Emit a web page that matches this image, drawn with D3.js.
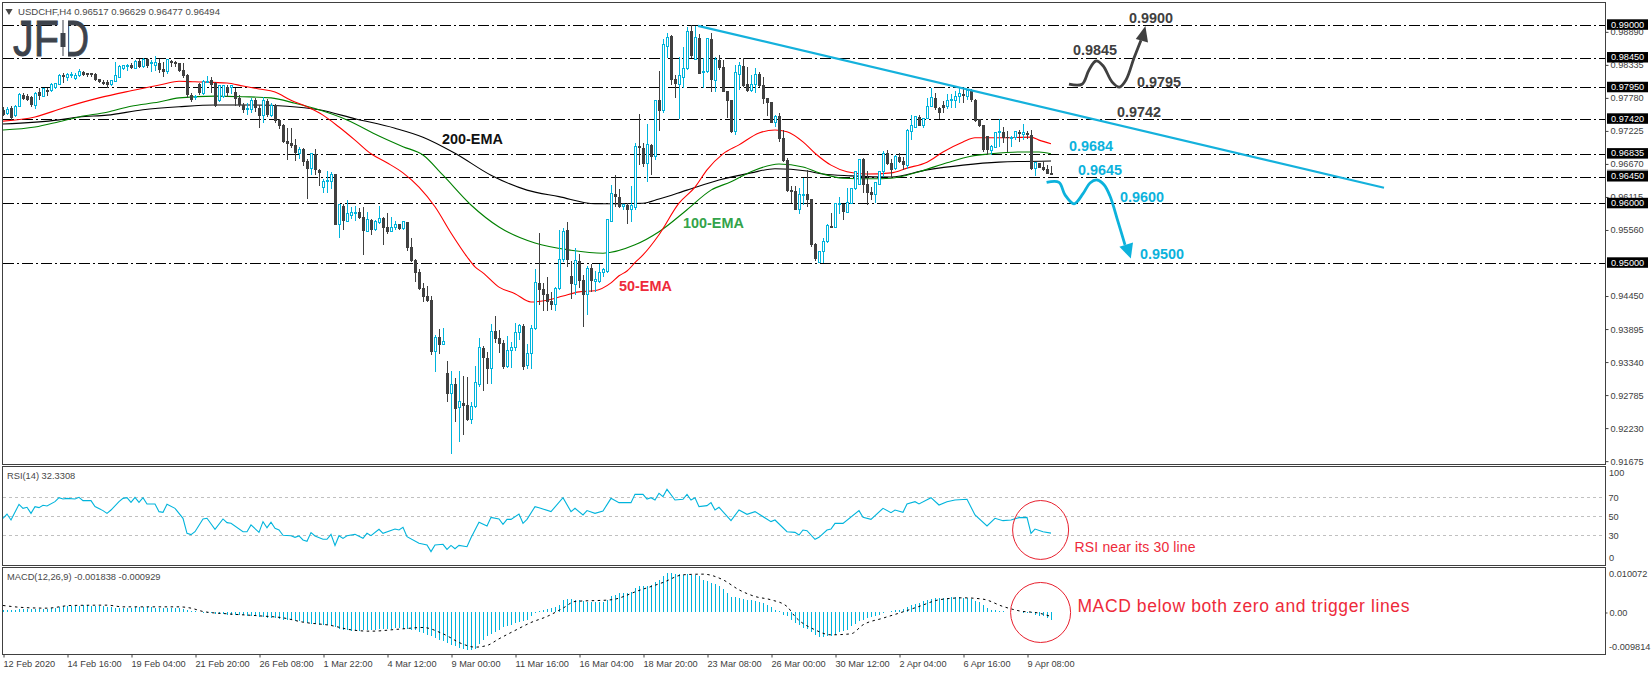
<!DOCTYPE html>
<html lang="en">
<head>
  <meta charset="UTF-8">
  <title>USDCHF H4</title>
  <script src="https://d3js.org/d3.v7.min.js"></script>
  <style>
    html, body { margin: 0; padding: 0; background: #fff; overflow: hidden; }
    text { font-family: "Liberation Sans", sans-serif; }
    .tick text { font-family: "Liberation Sans", sans-serif; }
  </style>
</head>
<body>
  <div id="chart"></div>

  <script>
    // prices are kept in pips (price x 10000), one entry per H4 bar
    const opens = [
      9758,9751,9761,9748,9764,9783,9781,9780,9766,9788, 9781,9791,9790,9795,9801,9816,9813,9816,9811,9815,
      9822,9820,9820,9818,9810,9805,9805,9800,9806,9813, 9827,9832,9833,9827,9840,9830,9843,9837,9833,9837,
      9827,9822,9840,9838,9837,9825,9816,9783,9778,9801, 9785,9805,9808,9803,9774,9780,9796,9795,9788,9778,
      9766,9758,9759,9774,9761,9748,9773,9749,9766,9741, 9732,9706,9702,9699,9685,9692,9672,9659,9684,9657,
      9628,9637,9638,9650,9565,9597,9571,9581,9585,9586, 9578,9554,9573,9556,9568,9576,9561,9554,9560,9566,
      9558,9570,9527,9506,9485,9459,9445,9438,9351,9376, 9364,9316,9282,9297,9257,9265,9262,9237,9259,9296,
      9358,9341,9323,9386,9375,9366,9326,9354,9358,9383, 9395,9328,9348,9390,9467,9457,9449,9437,9430,9457,
      9506,9556,9479,9465,9504,9472,9447,9492,9470,9470, 9485,9487,9571,9617,9611,9596,9598,9591,9593,9697,
      9694,9667,9699,9679,9774,9756,9865,9882,9810,9801, 9813,9827,9890,9843,9879,9820,9822,9877,9808,9842,
      9830,9790,9774,9721,9818,9832,9801,9790,9801,9818, 9800,9778,9771,9736,9748,9711,9674,9623,9621,9591,
      9615,9616,9608,9533,9501,9519,9536,9563,9561,9598, 9600,9586,9601,9625,9633,9675,9633,9620,9616,9633,
      9654,9685,9669,9659,9679,9672,9665,9722,9729,9746, 9731,9743,9763,9778,9761,9766,9763,9773,9774,9780,
      9785,9781,9790,9774,9743,9732,9714,9689,9694,9719, 9721,9712,9711,9711,9721,9717,9719,9716,9659,9669,
      9662,9659,9652
    ];
    const highs = [
      9763,9763,9764,9766,9786,9786,9785,9781,9788,9795, 9795,9795,9803,9803,9818,9820,9820,9822,9820,9827,
      9823,9820,9820,9820,9810,9808,9808,9808,9838,9833, 9833,9835,9837,9842,9843,9845,9845,9842,9848,9843,
      9838,9843,9842,9840,9837,9837,9818,9786,9783,9803, 9808,9815,9813,9805,9800,9800,9800,9800,9795,9783,
      9769,9769,9778,9778,9766,9780,9776,9769,9768,9743, 9734,9727,9727,9709,9696,9694,9675,9685,9692,9659,
      9642,9655,9654,9650,9600,9600,9606,9595,9597,9593, 9595,9586,9575,9573,9597,9578,9585,9578,9571,9566,
      9571,9570,9543,9507,9491,9467,9462,9445,9380,9390, 9391,9336,9319,9307,9319,9311,9309,9267,9328,9375,
      9361,9351,9398,9412,9388,9371,9378,9368,9400,9398, 9398,9365,9396,9490,9551,9467,9477,9452,9460,9556,
      9560,9570,9504,9526,9516,9480,9496,9499,9487,9499, 9492,9575,9632,9648,9625,9600,9601,9630,9702,9751,
      9702,9734,9701,9774,9823,9877,9887,9884,9816,9847, 9864,9897,9900,9899,9885,9845,9879,9887,9847,9850,
      9842,9790,9774,9833,9838,9845,9830,9816,9828,9822, 9813,9778,9771,9749,9753,9724,9677,9630,9630,9627,
      9643,9657,9608,9534,9519,9543,9566,9585,9601,9612, 9600,9627,9627,9654,9675,9677,9655,9628,9635,9655,
      9689,9690,9675,9682,9685,9679,9726,9749,9748,9749, 9744,9778,9795,9786,9763,9773,9785,9785,9790,9796,
      9795,9793,9793,9776,9743,9732,9714,9699,9719,9743, 9729,9722,9714,9722,9724,9734,9722,9724,9669,9669,
      9672,9665,9663
    ];
    const lows = [
      9748,9749,9741,9746,9763,9774,9773,9763,9759,9774, 9780,9781,9788,9793,9800,9803,9806,9811,9808,9813,
      9815,9813,9813,9806,9803,9800,9795,9798,9806,9811, 9825,9823,9827,9827,9828,9828,9828,9822,9823,9820,
      9813,9818,9830,9830,9822,9811,9778,9771,9774,9783, 9783,9803,9786,9763,9771,9778,9780,9785,9764,9763,
      9753,9749,9753,9754,9727,9736,9746,9746,9736,9726, 9702,9674,9694,9672,9675,9664,9608,9648,9648,9630,
      9618,9618,9625,9565,9543,9556,9570,9575,9571,9575, 9514,9553,9548,9554,9566,9531,9549,9553,9556,9556,
      9556,9521,9502,9469,9455,9435,9435,9346,9318,9348, 9363,9267,9180,9234,9200,9212,9235,9230,9257,9292,
      9286,9297,9297,9366,9349,9323,9324,9324,9353,9371, 9321,9323,9323,9388,9430,9420,9420,9422,9420,9455,
      9502,9494,9440,9447,9459,9393,9413,9452,9452,9467, 9477,9484,9570,9595,9593,9590,9566,9570,9590,9665,
      9662,9637,9648,9674,9722,9753,9845,9800,9778,9743, 9795,9825,9845,9842,9818,9795,9820,9788,9788,9825,
      9788,9744,9719,9716,9791,9796,9788,9788,9786,9796, 9768,9748,9736,9729,9704,9670,9620,9601,9590,9583,
      9598,9595,9528,9504,9501,9501,9534,9559,9559,9583, 9573,9586,9600,9623,9632,9618,9598,9606,9601,9632,
      9645,9665,9643,9657,9669,9657,9659,9707,9727,9731, 9727,9743,9763,9758,9743,9753,9759,9761,9761,9769,
      9769,9774,9771,9738,9729,9687,9682,9682,9694,9696, 9702,9687,9696,9707,9704,9707,9709,9657,9647,9660,
      9655,9650,9648
    ];
    const closes = [
      9749,9759,9744,9764,9783,9776,9774,9766,9786,9781, 9793,9788,9801,9803,9816,9813,9818,9818,9816,9823,
      9816,9816,9816,9808,9805,9801,9800,9808,9815,9830, 9832,9833,9828,9840,9830,9843,9832,9838,9837,9825,
      9822,9842,9837,9835,9823,9815,9783,9774,9781,9786, 9805,9806,9800,9764,9798,9798,9786,9798,9776,9766,
      9758,9761,9774,9761,9748,9774,9749,9766,9739,9731, 9704,9701,9697,9685,9692,9670,9659,9684,9657,9652,
      9638,9640,9650,9565,9598,9571,9583,9585,9586,9576, 9554,9573,9556,9570,9576,9560,9553,9561,9566,9558,
      9570,9526,9504,9484,9457,9444,9437,9351,9376,9363, 9368,9281,9297,9255,9267,9260,9237,9259,9299,9358,
      9341,9323,9385,9373,9365,9326,9354,9358,9383,9395, 9326,9348,9390,9467,9455,9447,9435,9430,9457,9506,
      9554,9506,9465,9504,9470,9447,9492,9470,9472,9485, 9489,9573,9617,9611,9595,9598,9590,9597,9697,9694,
      9667,9699,9679,9774,9756,9867,9880,9808,9801,9815, 9827,9890,9848,9879,9818,9822,9877,9808,9842,9828,
      9788,9773,9721,9820,9832,9798,9790,9801,9818,9798, 9776,9769,9736,9746,9709,9672,9622,9620,9590,9615,
      9616,9606,9531,9507,9519,9536,9564,9560,9600,9600, 9586,9603,9625,9654,9675,9632,9618,9615,9635,9654,
      9685,9667,9657,9679,9670,9665,9724,9731,9746,9731, 9744,9763,9778,9761,9753,9761,9773,9776,9780,9785,
      9781,9790,9774,9739,9731,9690,9690,9696,9719,9721, 9711,9711,9712,9721,9717,9719,9716,9659,9669,9660,
      9657,9650,9649
    ];

    const ema50 = [[0,9739],[8,9746],[15,9761],[24,9778],[32,9790],[40,9801],[44,9806],[48,9805],[56,9803],[60,9798],[64,9793],[68,9788],[72,9774],[76,9763],[80,9749],[84,9729],[88,9707],[92,9684],[96,9669],[100,9652],[104,9628],[108,9595],[112,9551],[116,9511],[118,9494],[120,9484],[124,9460],[128,9449],[132,9435],[136,9438],[140,9445],[144,9452],[148,9454],[152,9467],[154,9479],[156,9487],[158,9501],[160,9514],[164,9548],[169,9601],[173,9628],[176,9657],[180,9684],[184,9699],[189,9719],[193,9724],[196,9721],[200,9704],[203,9685],[207,9665],[211,9654],[216,9650],[222,9652],[226,9660],[231,9670],[235,9687],[240,9704],[243,9711],[249,9711],[257,9712],[259,9707],[262,9701]];
    const ema100 = [[0,9724],[8,9729],[14,9738],[19,9746],[26,9754],[32,9764],[39,9771],[44,9778],[53,9781],[60,9780],[67,9778],[73,9769],[79,9758],[86,9741],[94,9714],[100,9696],[105,9682],[110,9648],[117,9598],[124,9561],[133,9534],[142,9522],[150,9517],[158,9531],[164,9553],[171,9590],[177,9623],[182,9637],[187,9654],[194,9667],[200,9662],[205,9650],[210,9643],[217,9642],[222,9643],[229,9654],[236,9669],[242,9680],[247,9684],[254,9687],[259,9687],[262,9684]];
    const ema200 = [[0,9734],[14,9741],[19,9746],[26,9749],[35,9758],[44,9763],[53,9766],[62,9766],[71,9764],[79,9758],[88,9743],[98,9727],[105,9712],[113,9685],[122,9648],[131,9623],[139,9612],[148,9600],[160,9601],[164,9608],[171,9623],[179,9640],[187,9652],[193,9659],[201,9655],[205,9650],[212,9647],[222,9645],[231,9657],[240,9665],[249,9670],[262,9672]];

    const rsiValues = [[0,47.9],[1,52.4],[2,46.1],[4,62.6],[5,58.4],[6,59.5],[7,53.1],[8,60.2],[9,59.1],[10,61.6],[11,60.9],[13,65.4],[14,69.6],[15,68.2],[16,68.9],[18,68.2],[19,70],[20,66.5],[22,66.5],[23,60.2],[25,56],[26,53.1],[27,56.6],[29,65.4],[30,68.9],[31,69.6],[32,64.7],[33,70],[34,64.7],[35,69.6],[36,63],[38,63],[39,54.9],[40,54.2],[41,62.6],[43,58.4],[45,47.9],[46,32.1],[47,30.7],[48,33.8],[50,47.2],[51,47.9],[53,36.3],[55,47.2],[56,43.3],[57,42.6],[60,33.8],[61,33.8],[62,40.9],[64,33.1],[65,44.4],[66,38],[67,43.7],[68,37.3],[69,35.6],[70,30],[72,29.6],[73,27.9],[74,29.3],[75,25.1],[76,23.7],[77,32.8],[78,29.3],[80,25.8],[81,25.8],[82,31],[83,19.4],[84,29.6],[85,26.8],[86,29.6],[88,31],[90,26.8],[91,32.1],[92,29.6],[94,36.3],[95,32.1],[98,36.6],[99,35.6],[100,38.4],[101,28.6],[104,21.6],[106,19.8],[107,12.8],[108,19.8],[110,20.5],[111,15.2],[112,19.4],[113,15.9],[114,19.4],[116,18],[117,27.5],[119,43.7],[121,39.8],[122,48.9],[124,47.2],[125,41.6],[126,46.8],[127,46.8],[129,52.4],[130,42.6],[131,46.8],[133,60.2],[134,59.1],[137,54.9],[140,69.6],[142,54.9],[143,58.4],[145,51.4],[146,56],[148,53.1],[150,55.6],[152,68.9],[154,64.4],[157,64.4],[158,73.1],[160,73.1],[161,68.2],[162,69.6],[163,67.2],[164,74.2],[165,70.7],[166,78.4],[168,67.2],[170,67.9],[171,73.1],[172,67.2],[173,69.6],[174,60.2],[176,61.2],[177,64.4],[178,56.6],[179,59.5],[182,45.4],[184,56.6],[186,52.1],[188,54.9],[192,44.4],[193,46.1],[196,33.8],[198,33.1],[199,30.3],[200,35.6],[201,34.9],[203,25.8],[204,27.9],[206,35.6],[207,36.6],[208,42.6],[210,42.6],[214,56],[215,48.9],[217,46.8],[220,58.4],[222,53.8],[223,56.6],[225,54.2],[226,63],[228,65.4],[229,63],[232,69.6],[234,61.9],[236,65.4],[238,67.2],[241,67.9],[243,51.4],[246,39.8],[248,47.9],[250,45.4],[252,46.1],[254,48.6],[256,48.9],[257,32.1],[258,36.6],[260,33.8],[262,32.3]];

    // MACD in units of 0.00001, one histogram value per bar
    const macdBars = [
      61,61,68,68,76,76,76,84,84,84, 84,84,99,106,122,137,152,152,152,152,
      160,160,152,152,152,137,129,114,106,106, 106,106,106,114,114,114,114,114,106,106,
      99,99,99,91,91,76,61,38,23,8, -8,-23,-23,-30,-30,-38,-46,-46,-53,-61,
      -68,-76,-84,-91,-106,-114,-122,-129,-137,-152, -160,-167,-175,-190,-205,-220,-243,-251,-266,-274,
      -289,-296,-304,-342,-380,-410,-410,-418,-418,-418, -410,-403,-395,-388,-380,-372,-365,-365,-357,-357,
      -365,-380,-395,-410,-441,-471,-509,-547,-585,-623, -661,-699,-737,-775,-806,-836,-844,-851,-836,-722,
      -623,-547,-486,-441,-395,-342,-304,-274,-243,-220, -198,-167,-91,-8,23,61,84,99,122,175,
      289,312,312,289,274,251,243,236,236,228, 228,289,365,403,441,441,441,464,555,593,
      593,608,631,684,745,821,897,897,882,866, 859,874,859,844,821,745,707,669,654,608,
      540,441,350,342,327,312,289,274,258,228, 205,167,114,61,23,-53,-76,-167,-243,-296,
      -357,-380,-456,-524,-570,-570,-547,-532,-509,-456, -433,-395,-319,-258,-205,-167,-129,-106,-76,-53,
      -15,0,23,46,61,84,114,175,198,213, 251,274,312,319,319,327,334,342,342,342,
      334,334,304,266,236,175,99,61,46,38, 23,0,0,0,0,-8,-15,-15,-53,-91,
      -91,-129,-167
    ];
    const macdSignal = [[0,160],[5,114],[11,99],[17,160],[26,167],[30,129],[44,129],[47,99],[50,23],[56,-30],[64,-76],[70,-122],[75,-220],[82,-296],[87,-395],[92,-426],[99,-380],[105,-342],[110,-486],[115,-722],[118,-790],[121,-752],[124,-600],[128,-410],[132,-228],[136,-91],[140,99],[143,251],[152,289],[159,502],[165,684],[170,859],[175,874],[180,745],[184,517],[188,365],[192,289],[196,137],[198,-91],[203,-395],[207,-509],[212,-486],[215,-281],[220,-129],[224,-15],[229,137],[234,289],[240,334],[245,304],[250,137],[254,38],[259,-15],[262,-91]];

    const priceLevels = [0.99, 0.9845, 0.9795, 0.9742, 0.96835, 0.9645, 0.96, 0.95];
    const priceTicks = [0.9889, 0.98335, 0.9778, 0.97225, 0.9667, 0.96115, 0.9556, 0.9445, 0.93895, 0.9334, 0.92785, 0.9223, 0.91675];
    const timeBars = [0, 16, 32, 48, 64, 80, 96, 112, 128, 144, 160, 176, 192, 208, 224, 240, 256];
    const timeLabels = ["12 Feb 2020", "14 Feb 16:00", "19 Feb 04:00", "21 Feb 20:00", "26 Feb 08:00", "1 Mar 22:00", "4 Mar 12:00", "9 Mar 00:00", "11 Mar 16:00", "16 Mar 04:00", "18 Mar 20:00", "23 Mar 08:00", "26 Mar 00:00", "30 Mar 12:00", "2 Apr 04:00", "6 Apr 16:00", "9 Apr 08:00"];

    // drawn scenario paths and trendline: [bar, pips]
    const trendline = [[173.75,9899],[345.25,9627]];
    const bullPath = [[266.5,9801],[269.75,9801],[271.5,9825],[273.25,9840],[275,9832],[277.25,9805],[279.1,9796],[280.75,9808],[282.75,9845],[284.5,9875]];
    const bullHead = [[285.6,9899],[283.2,9877],[286.25,9871]];
    const bearPath = [[260.9,9636],[264,9636],[265.5,9615],[267.75,9600],[270,9617],[271.75,9635],[273.5,9640],[275.25,9632],[276.75,9613],[278.75,9570],[280.5,9531]];
    const bearHead = [[281.95,9508],[279.1,9528],[282.5,9535]];

    const width = 1651, height = 675;
    const dark = "#404040", cyan = "#00b4dc", red = "#ee2a3a";

    const svg = d3.select("#chart").append("svg")
      .attr("width", width)
      .attr("height", height)
      .style("display", "block");

    const x = d3.scaleLinear().domain([0, 262]).range([3, 1051]);
    const y = d3.scaleLinear().domain([0.95, 0.99]).range([263.3, 25.3]);
    const yPips = v => y(v / 1e4);
    const yRsi = d3.scaleLinear().domain([0, 100]).range([563.8, 468.8]);
    const yMacd = d3.scaleLinear().domain([-0.00953, 0.0103]).range([654.3, 567.3]);
    const yHist = v => yMacd(v / 1e5);

    // panel frames
    const frames = [[2.5, 464.5], [466.5, 565.5], [567.5, 654.5]];
    svg.selectAll(".frame").data(frames).enter().append("rect")
      .attr("class", "frame")
      .attr("x", 2.5)
      .attr("y", d => d[0])
      .attr("width", 1603)
      .attr("height", d => d[1] - d[0])
      .attr("fill", "none")
      .attr("stroke", dark)
      .attr("stroke-width", 1);

    // horizontal levels
    svg.selectAll(".level").data(priceLevels).enter().append("line")
      .attr("class", "level")
      .attr("x1", 3)
      .attr("x2", 1605)
      .attr("y1", d => y(d))
      .attr("y2", d => y(d))
      .attr("stroke", "#000")
      .attr("stroke-dasharray", "11,3,2,3")
      .attr("shape-rendering", "crispEdges");

    // moving averages
    const pipLine = d3.line()
      .x(d => x(d[0]))
      .y(d => yPips(d[1]))
      .curve(d3.curveMonotoneX);
    [[ema200, "#000"], [ema100, "#008000"], [ema50, "#ff0000"]].forEach(([series, color]) => {
      svg.append("path")
        .attr("d", pipLine(series))
        .attr("fill", "none")
        .attr("stroke", color)
        .attr("stroke-width", 1.1);
    });

    // candles
    const candles = svg.append("g").attr("shape-rendering", "crispEdges");
    const bars = d3.range(opens.length);
    candles.selectAll(".wick").data(bars).enter().append("rect")
      .attr("class", "wick")
      .attr("x", i => x(i))
      .attr("width", 1)
      .attr("y", i => yPips(highs[i]))
      .attr("height", i => yPips(lows[i]) - yPips(highs[i]))
      .attr("fill", i => closes[i] >= opens[i] ? cyan : dark);
    candles.selectAll(".body").data(bars).enter().append("rect")
      .attr("class", "body")
      .attr("x", i => closes[i] >= opens[i] ? x(i) - 0.5 : x(i) - 1)
      .attr("width", i => closes[i] >= opens[i] ? 2 : 3)
      .attr("y", i => yPips(Math.max(opens[i], closes[i])))
      .attr("height", i => Math.max(1, yPips(Math.min(opens[i], closes[i])) - yPips(Math.max(opens[i], closes[i]))))
      .attr("fill", i => closes[i] >= opens[i] ? "#fff" : dark)
      .attr("stroke", i => closes[i] >= opens[i] ? cyan : "none");

    // trendline and scenario arrows
    const plainLine = d3.line().x(d => x(d[0])).y(d => yPips(d[1]));
    svg.append("path")
      .attr("d", plainLine(trendline))
      .attr("fill", "none")
      .attr("stroke", "#14b1dc")
      .attr("stroke-width", 2.2);
    const arrowLine = d3.line().x(d => x(d[0])).y(d => yPips(d[1])).curve(d3.curveCatmullRom);
    [[bullPath, bullHead, dark], [bearPath, bearHead, "#0cb2dc"]].forEach(([path, head, color]) => {
      svg.append("path")
        .attr("d", arrowLine(path))
        .attr("fill", "none")
        .attr("stroke", color)
        .attr("stroke-width", 2.8);
      svg.append("path")
        .attr("d", plainLine(head) + "Z")
        .attr("fill", color);
    });

    // chart notes
    function notes(texts, bars, pips, color) {
      texts.forEach((t, i) => {
        svg.append("text")
          .attr("x", x(bars[i]))
          .attr("y", yPips(pips[i]))
          .attr("dominant-baseline", "central")
          .attr("font-size", "14.4px")
          .attr("font-weight", 700)
          .attr("fill", color)
          .text(t);
      });
    }
    notes(["200-EMA"], [109.75], [9709], "#111");
    notes(["100-EMA"], [170], [9568], "#33a34a");
    notes(["50-EMA"], [154], [9462], red);
    notes(["0.9900", "0.9845", "0.9795", "0.9742"], [281.5, 267.5, 283.5, 278.5], [9913, 9858, 9805, 9754], dark);
    notes(["0.9684", "0.9645", "0.9600", "0.9500"], [266.5, 268.75, 279.25, 284.25], [9697, 9657, 9612, 9516], "#0cb2dc");

    // RSI panel
    svg.selectAll(".rsi-level").data([70, 50, 30]).enter().append("line")
      .attr("class", "rsi-level")
      .attr("x1", 3)
      .attr("x2", 1605)
      .attr("y1", d => yRsi(d))
      .attr("y2", d => yRsi(d))
      .attr("stroke", "#c0c0c0")
      .attr("stroke-dasharray", "3,3")
      .attr("shape-rendering", "crispEdges");
    svg.append("path")
      .attr("d", d3.line().x(d => x(d[0])).y(d => yRsi(d[1]))(rsiValues))
      .attr("fill", "none")
      .attr("stroke", cyan)
      .attr("stroke-width", 1.1);

    // MACD panel
    svg.append("g").attr("shape-rendering", "crispEdges")
      .selectAll("rect").data(macdBars).enter().append("rect")
      .attr("x", (_, i) => x(i))
      .attr("width", 1)
      .attr("y", d => Math.min(yHist(d), yHist(0)))
      .attr("height", d => Math.abs(yHist(d) - yHist(0)))
      .attr("fill", cyan);
    svg.append("path")
      .attr("d", d3.line().x(d => x(d[0])).y(d => yHist(d[1])).curve(d3.curveMonotoneX)(macdSignal))
      .attr("fill", "none")
      .attr("stroke", "#000")
      .attr("stroke-dasharray", "2.5,3.5");

    // red circles and their notes
    svg.append("ellipse")
      .attr("cx", x(259.4)).attr("cy", yRsi(35.6))
      .attr("rx", x(7) - x(0)).attr("ry", yRsi(0) - yRsi(31))
      .attr("fill", "none").attr("stroke", "#e8202e");
    svg.append("ellipse")
      .attr("cx", x(259.4)).attr("cy", yMacd(0))
      .attr("rx", x(7.5) - x(0)).attr("ry", yMacd(0) - yMacd(0.00684))
      .attr("fill", "none").attr("stroke", "#e8202e");
    svg.append("text")
      .attr("x", x(267.9)).attr("y", yRsi(17.3))
      .attr("dominant-baseline", "central")
      .attr("font-size", "14px").attr("fill", red)
      .attr("textLength", 121)
      .text("RSI near its 30 line");
    svg.append("text")
      .attr("x", x(268.6)).attr("y", yMacd(0.00148))
      .attr("dominant-baseline", "central")
      .attr("font-size", "17.5px").attr("fill", red)
      .attr("textLength", 332)
      .text("MACD below both zero and trigger lines");

    // axes
    const fmt5 = d3.format(".5f");
    const priceAxis = svg.append("g")
      .attr("transform", "translate(1605.5,0)")
      .call(d3.axisRight(y).tickValues(priceTicks).tickFormat(fmt5).tickSize(3).tickPadding(2));
    priceAxis.select(".domain").remove();
    const rsiAxis = svg.append("g")
      .attr("transform", "translate(1605.5,0)")
      .call(d3.axisRight(yRsi).tickValues([70, 50, 30]).tickSize(0).tickPadding(3));
    rsiAxis.select(".domain").remove();
    const macdAxis = svg.append("g")
      .attr("transform", "translate(1605.5,0)")
      .call(d3.axisRight(yMacd).tickValues([0]).tickFormat(() => "0.00").tickSize(2).tickPadding(2));
    macdAxis.select(".domain").remove();
    const timeAxis = svg.append("g")
      .attr("transform", "translate(0.5,654.5)")
      .call(d3.axisBottom(x).tickValues(timeBars).tickFormat((_, i) => timeLabels[i]).tickSize(3).tickPadding(3));
    timeAxis.select(".domain").remove();
    timeAxis.selectAll("text").attr("text-anchor", "start").attr("dx", "-0.5");
    [priceAxis, rsiAxis, macdAxis, timeAxis].forEach(a => {
      a.selectAll("line").attr("stroke", dark);
      a.selectAll("text").attr("fill", dark).style("font-size", "9.2px");
    });

    // pinned end-of-scale labels on the lower panels
    [["100", yRsi(100) + 4], ["0", yRsi(0) - 6]].forEach(([t, py]) => {
      svg.append("text").attr("x", 1609).attr("y", py)
        .attr("dominant-baseline", "central")
        .attr("font-size", "9.2px").attr("fill", dark).text(t);
    });
    [["0.010072", yMacd(0.0103) + 7], ["-0.009814", yMacd(-0.00953) - 7]].forEach(([t, py]) => {
      svg.append("text").attr("x", 1609).attr("y", py)
        .attr("dominant-baseline", "central")
        .attr("font-size", "9.2px").attr("fill", dark).text(t);
    });

    // last price tag sits under the level tags
    svg.append("rect")
      .attr("x", 1607).attr("width", 41)
      .attr("y", yPips(closes[closes.length - 1]) - 5).attr("height", 10)
      .attr("fill", "#808080");

    // level tags on the price scale
    const tags = svg.selectAll(".tag").data(priceLevels).enter().append("g").attr("class", "tag");
    tags.append("rect")
      .attr("x", 1607)
      .attr("y", d => y(d) - 6)
      .attr("width", 41)
      .attr("height", 10.5)
      .attr("fill", "#000");
    tags.append("text")
      .attr("x", 1611)
      .attr("y", d => y(d) - 0.8)
      .attr("dominant-baseline", "central")
      .attr("font-size", "9.2px")
      .attr("fill", "#fff")
      .text(d => fmt5(d));

    // titles
    svg.append("path")
      .attr("d", d3.symbol().type(d3.symbolTriangle).size(22)())
      .attr("transform", "translate(9,11) rotate(180)")
      .attr("fill", "#484848");
    svg.append("text")
      .attr("x", 18).attr("y", 11)
      .attr("dominant-baseline", "central")
      .attr("font-size", "9.6px").attr("fill", "#484848")
      .attr("textLength", 202)
      .text("USDCHF,H4  0.96517 0.96629 0.96477 0.96494");
    svg.append("text")
      .attr("x", 7).attr("y", 476)
      .attr("dominant-baseline", "central")
      .attr("font-size", "9.3px").attr("fill", "#484848")
      .text("RSI(14) 32.3308");
    svg.append("text")
      .attr("x", 7).attr("y", 576.5)
      .attr("dominant-baseline", "central")
      .attr("font-size", "9.3px").attr("fill", "#484848")
      .text("MACD(12,26,9) -0.001838 -0.000929");

    // logo: J F, a candle for the stem of the D
    const logoColor = "#3d434c";
    const logo = svg.append("g").attr("fill", logoColor);
    logo.append("text")
      .attr("x", 13).attr("y", 56)
      .attr("font-size", "50px").attr("stroke", logoColor).attr("stroke-width", 0.9)
      .attr("textLength", 46).attr("lengthAdjust", "spacingAndGlyphs")
      .text("JF");
    logo.append("text")
      .attr("x", 62).attr("y", 56)
      .attr("font-size", "50px").attr("stroke", logoColor).attr("stroke-width", 0.9)
      .attr("textLength", 27).attr("lengthAdjust", "spacingAndGlyphs")
      .text("D");
    logo.append("rect").attr("x", 60).attr("y", 19).attr("width", 8).attr("height", 38).attr("fill", "#fff");
    logo.append("rect").attr("x", 62.5).attr("y", 20).attr("width", 1).attr("height", 36);
    logo.append("rect").attr("x", 60.5).attr("y", 33).attr("width", 5).attr("height", 14);
  </script>
</body>
</html>
